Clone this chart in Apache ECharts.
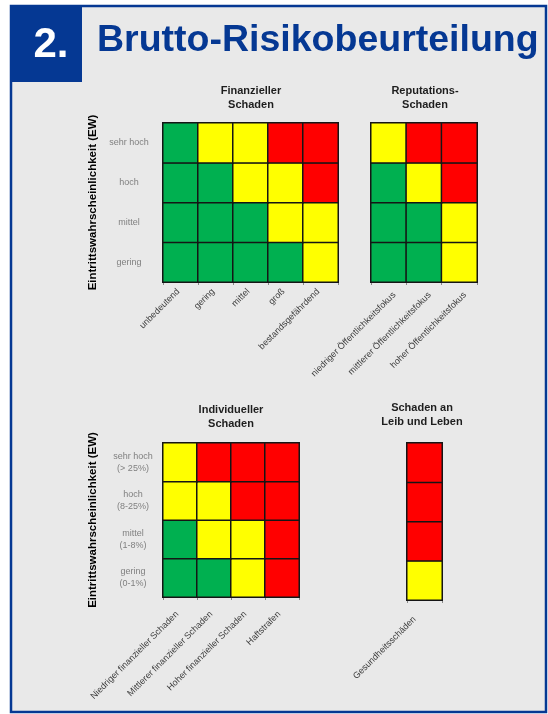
<!DOCTYPE html>
<html>
<head>
<meta charset="utf-8">
<script src="https://cdn.jsdelivr.net/npm/echarts@6/dist/echarts.min.js"></script>
<style>
  html, body { margin: 0; padding: 0; background: #ffffff; }
  #chart { width: 548px; height: 714px; }
</style>
</head>
<body>
<div id="chart"></div>
<script>
// Likelihood classes, listed from the bottom row up
const ewLevels = ['gering', 'mittel', 'hoch', 'sehr hoch'];
const ewLevelsPct = ['gering\n(0-1%)', 'mittel\n(1-8%)', 'hoch\n(8-25%)', 'sehr hoch\n(> 25%)'];

// Impact categories per matrix
const finCats = ['unbedeutend', 'gering', 'mittel', 'groß', 'bestandsgefährdend'];
const repCats = ['niedriger Öffentlichkeitsfokus', 'mittlerer Öffentlichkeitsfokus', 'hoher Öffentlichkeitsfokus'];
const indCats = ['Niedriger finanzieller Schaden', 'Mittlerer finanzieller Schaden', 'Hoher finanzieller Schaden', 'Haftstrafen'];
const leibCats = ['Gesundheitsschäden'];

// Risk class per cell: 0 = niedrig (grün), 1 = mittel (gelb), 2 = hoch (rot)
// One row per likelihood class, from "gering" up to "sehr hoch"
const finRisk = [
  [0, 0, 0, 0, 1],
  [0, 0, 0, 1, 1],
  [0, 0, 1, 1, 2],
  [0, 1, 1, 2, 2]
];
const repRisk = [
  [0, 0, 1],
  [0, 0, 1],
  [0, 1, 2],
  [1, 2, 2]
];
const indRisk = [
  [0, 0, 1, 2],
  [0, 1, 1, 2],
  [1, 1, 2, 2],
  [1, 2, 2, 2]
];
const leibRisk = [
  [1],
  [2],
  [2],
  [2]
];

const riskColors = ['#00b050', '#ffff00', '#ff0000'];
const BLUE = '#053893';
const FONT = '"Liberation Sans", Arial, Helvetica, sans-serif';

function toCells(matrix) {
  const out = [];
  matrix.forEach((row, y) => row.forEach((v, x) => out.push([x, y, v])));
  return out;
}

const grids = [
  { left: 163, top: 123, width: 175, height: 159 },
  { left: 371, top: 123, width: 106, height: 159 },
  { left: 163, top: 443, width: 136, height: 154 },
  { left: 407, top: 443, width: 35, height: 157 }
];

const catSets = [finCats, repCats, indCats, leibCats];
const matrices = [finRisk, repRisk, indRisk, leibRisk];
// placement of the slanted category labels per matrix
const labelMargin = [6, 6, 13, 8];
const labelPad = [[0, 3, 0, 0], 0, [0, 4, 0, 0], [0, 14, 0, 0]];
const labelVAlign = ['middle', 'top', 'middle', 'middle'];
const labelLineH = [11, 16, 11, 11];

const xAxes = catSets.map((cats, i) => ({
  type: 'category',
  gridIndex: i,
  data: cats,
  axisLine: { show: true, lineStyle: { color: '#777', width: 1 } },
  axisTick: { show: true, length: 3, lineStyle: { color: '#888' } },
  axisLabel: {
    rotate: 45,
    interval: 0,
    margin: labelMargin[i],
    padding: labelPad[i],
    verticalAlign: labelVAlign[i],
    lineHeight: labelLineH[i],
    fontFamily: FONT,
    fontSize: 9,
    color: '#3c3c3c'
  },
  splitLine: { show: false }
}));

const yAxes = [0, 1, 2, 3].map(i => {
  const withLabels = (i === 0 || i === 2);
  return {
    type: 'category',
    gridIndex: i,
    data: i === 2 ? ewLevelsPct : ewLevels,
    axisLine: { show: false },
    axisTick: { show: false },
    splitLine: { show: false },
    axisLabel: {
      show: withLabels,
      align: 'center',
      margin: i === 0 ? 34 : 30,
      fontFamily: FONT,
      fontSize: 9,
      lineHeight: 12,
      color: '#808080'
    },
    name: withLabels ? 'Eintrittswahrscheinlichkeit (EW)' : '',
    nameLocation: 'middle',
    nameGap: 64,
    nameTextStyle: {
      fontFamily: FONT,
      fontSize: 11.5,
      fontWeight: 'bold',
      color: '#000000'
    }
  };
});

const series = matrices.map((m, i) => ({
  type: 'heatmap',
  xAxisIndex: i,
  yAxisIndex: i,
  data: toCells(m),
  itemStyle: { borderColor: '#151515', borderWidth: 1.5 },
  emphasis: { disabled: true },
  label: { show: false },
  silent: true
}));

// Frame, header badge and matrix headings
const headings = [
  { text: 'Finanzieller\nSchaden', x: 251, y: 98 },
  { text: 'Reputations-\nSchaden', x: 425, y: 98 },
  { text: 'Individueller\nSchaden', x: 231, y: 417 },
  { text: 'Schaden an\nLeib und Leben', x: 422, y: 415 }
];

const graphic = [
  {
    type: 'rect', z: -10,
    shape: { x: 11, y: 6, width: 535, height: 706 },
    style: { fill: '#e9e9e9', stroke: BLUE, lineWidth: 2.5 }
  },
  {
    type: 'rect', z: -9,
    shape: { x: 10, y: 5, width: 72, height: 77 },
    style: { fill: BLUE }
  },
  {
    type: 'text', z: 5, x: 51, y: 45,
    style: {
      text: '2.', fill: '#ffffff', font: 'bold 42px ' + FONT,
      align: 'center', verticalAlign: 'middle'
    }
  },
  {
    type: 'text', z: 5, x: 97, y: 41,
    style: {
      text: 'Brutto-Risikobeurteilung', fill: BLUE, font: 'bold 37.5px ' + FONT,
      align: 'left', verticalAlign: 'middle'
    }
  }
].concat(headings.map(h => ({
  type: 'text', z: 5, x: h.x, y: h.y,
  style: {
    text: h.text, fill: '#1e1e1e', font: 'bold 11px ' + FONT,
    lineHeight: 14, align: 'center', verticalAlign: 'middle'
  }
})));

const chart = echarts.init(document.getElementById('chart'), null, { renderer: 'canvas' });
chart.setOption({
  animation: false,
  backgroundColor: '#ffffff',
  grid: grids,
  xAxis: xAxes,
  yAxis: yAxes,
  visualMap: {
    type: 'piecewise',
    show: false,
    dimension: 2,
    seriesIndex: [0, 1, 2, 3],
    pieces: riskColors.map((c, i) => ({ value: i, color: c }))
  },
  graphic: graphic,
  series: series
});
</script>
</body>
</html>
